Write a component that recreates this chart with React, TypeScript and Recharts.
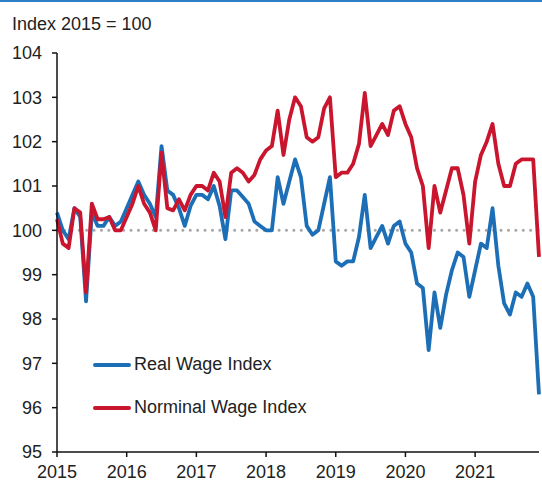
import { LineChart, Line, XAxis, YAxis, ReferenceLine, Legend } from "recharts";

// monthly, Jan 2015 .. Dec 2021
const years = [2015, 2016, 2017, 2018, 2019, 2020, 2021];

const realWage = [
    100.4, 100.0, 99.8, 100.5, 100.3, 98.4, 100.4, 100.1, 100.1, 100.3, 100.1, 100.2,
    100.5, 100.8, 101.1, 100.8, 100.6, 100.3, 101.9, 100.9, 100.8, 100.5, 100.1, 100.55,
    100.8, 100.8, 100.7, 101.0, 100.55, 99.8, 100.9, 100.9, 100.75, 100.6, 100.2, 100.1,
    100.0, 100.0, 101.2, 100.6, 101.1, 101.6, 101.2, 100.1, 99.9, 100.0, 100.6, 101.2,
    99.3, 99.2, 99.3, 99.3, 99.85, 100.8, 99.6, 99.85, 100.1, 99.7, 100.1, 100.2,
    99.7, 99.5, 98.8, 98.7, 97.3, 98.6, 97.8, 98.55, 99.1, 99.5, 99.4, 98.5,
    99.1, 99.7, 99.6, 100.5, 99.2, 98.35, 98.1, 98.6, 98.5, 98.8, 98.5, 96.3,
];

const nominalWage = [
    100.25, 99.7, 99.6, 100.5, 100.4, 98.6, 100.6, 100.25, 100.25, 100.3, 100.0, 100.0,
    100.3, 100.6, 101.0, 100.6, 100.4, 100.0, 101.75, 100.5, 100.45, 100.7, 100.45, 100.8,
    101.0, 101.0, 100.9, 101.3, 101.1, 100.3, 101.3, 101.4, 101.3, 101.1, 101.25, 101.6,
    101.8, 101.9, 102.7, 101.7, 102.5, 103.0, 102.8, 102.1, 102.0, 102.1, 102.75, 103.0,
    101.2, 101.3, 101.3, 101.5, 101.95, 103.1, 101.9, 102.15, 102.4, 102.15, 102.7, 102.8,
    102.4, 102.1, 101.4, 101.0, 99.6, 101.0, 100.4, 100.9, 101.4, 101.4, 100.8, 99.7,
    101.1, 101.7, 102.0, 102.4, 101.5, 101.0, 101.0, 101.5, 101.6, 101.6, 101.6, 99.4,
];

const yTicks = [95, 96, 97, 98, 99, 100, 101, 102, 103, 104];

const BLUE = "#1c6fb6";
const RED = "#c9152d";
const FONT = "'Liberation Sans', Arial, sans-serif";

const data = realWage.map((v, i) => ({ i, real: v, nominal: nominalWage[i] }));
const xTicks = years.map((_, k) => k * 12);

const legendItems = [
    { label: "Real Wage Index", color: BLUE },
    { label: "Norminal Wage Index", color: RED },
];

function WageLegend() {
    return (
        <div style={{ fontFamily: FONT, fontSize: 18, color: "#222" }}>
            {legendItems.map(item => (
                <div key={item.label} style={{ display: "flex", alignItems: "center", height: 43 }}>
                    <span style={{ display: "inline-block", width: 38, height: 4, borderRadius: 2, background: item.color, marginRight: 3 }} />
                    <span>{item.label}</span>
                </div>
            ))}
        </div>
    );
}

export default function App() {
    return (
        <div style={{ position: "absolute", left: 0, top: 0, width: 542, height: 482, background: "#fff", overflow: "hidden" }}>
            <div style={{ position: "absolute", left: 0, top: 0, width: 542, height: 2, background: "#2f7fc7" }} />
            <div style={{ position: "absolute", left: 12, top: 15, fontFamily: FONT, fontSize: 18, lineHeight: "18px", color: "#222" }}>
                Index 2015 = 100
            </div>
            <LineChart width={542} height={482} data={data} margin={{ top: 53, right: 3, bottom: 0, left: 0 }}>
                <XAxis
                    dataKey="i"
                    type="number"
                    domain={[0, 83]}
                    ticks={xTicks}
                    tickFormatter={(v: number) => String(years[v / 12])}
                    height={30}
                    tickSize={5}
                    tickMargin={8}
                    stroke="#111"
                    strokeWidth={1.5}
                    tick={{ fontSize: 18, fill: "#222", fontFamily: FONT }}
                    interval={0}
                />
                <YAxis
                    type="number"
                    domain={[95, 104]}
                    ticks={yTicks}
                    width={57}
                    tickSize={5}
                    tickMargin={10}
                    stroke="#111"
                    strokeWidth={1.5}
                    tick={{ fontSize: 18, fill: "#222", fontFamily: FONT }}
                    interval={0}
                />
                <ReferenceLine y={100} stroke="#a8a8a8" strokeWidth={3} strokeDasharray="0.1 7.3" strokeLinecap="round" />
                <Line dataKey="real" type="linear" stroke={BLUE} strokeWidth={3.8} dot={false} isAnimationActive={false} strokeLinejoin="round" />
                <Line dataKey="nominal" type="linear" stroke={RED} strokeWidth={3.8} dot={false} isAnimationActive={false} strokeLinejoin="round" />
                <Legend
                    layout="vertical"
                    align="center"
                    verticalAlign="middle"
                    content={() => <WageLegend />}
                    wrapperStyle={{ left: 93, top: 343, width: 260, height: 90 }}
                />
            </LineChart>
        </div>
    );
}
